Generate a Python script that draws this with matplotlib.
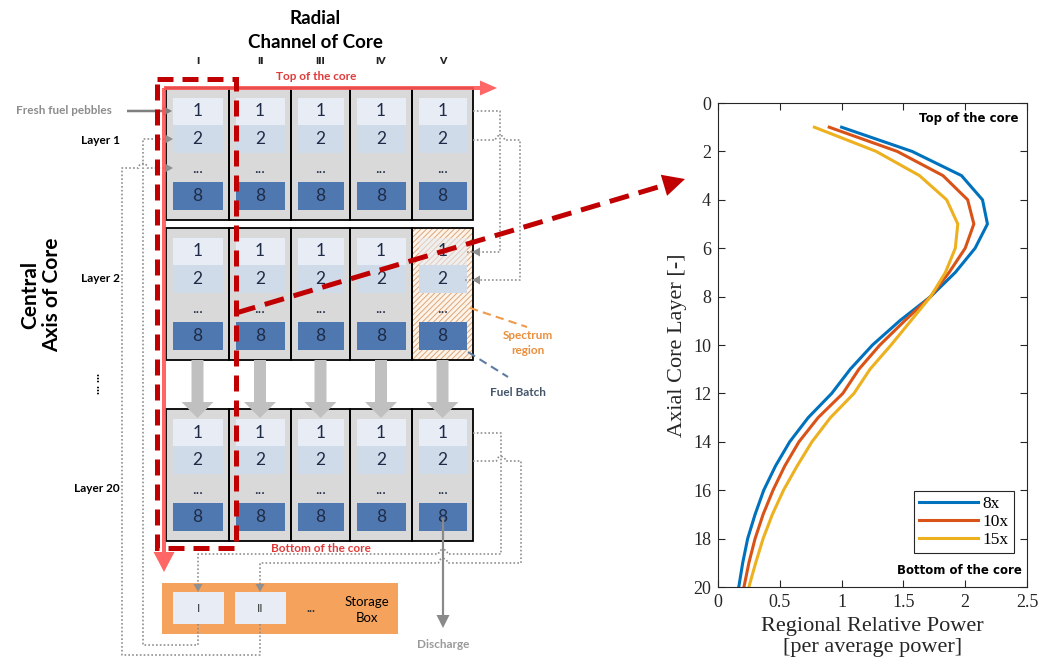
import numpy as np
import matplotlib
matplotlib.use('Agg')
import matplotlib.pyplot as plt
from matplotlib.patches import Rectangle, FancyArrow

# relative power per axial layer for the three pass numbers
layers = np.arange(1, 21)
power_8x = [1.00, 1.57, 1.97, 2.14, 2.18, 2.08, 1.92, 1.72, 1.47, 1.25,
            1.07, 0.92, 0.73, 0.58, 0.465, 0.37, 0.30, 0.24, 0.20, 0.168]
power_10x = [0.90, 1.45, 1.82, 2.02, 2.07, 2.00, 1.87, 1.72, 1.51, 1.31,
             1.14, 1.01, 0.81, 0.655, 0.54, 0.445, 0.365, 0.30, 0.25, 0.21]
power_15x = [0.78, 1.28, 1.63, 1.85, 1.94, 1.92, 1.84, 1.72, 1.56, 1.40,
             1.23, 1.10, 0.91, 0.76, 0.64, 0.53, 0.44, 0.365, 0.305, 0.25]
series_labels = ['8x', '10x', '15x']
series_colors = ['#0072bd', '#d95319', '#edb120']

channels = ['I', 'II', 'III', 'IV', 'V']
layer_names = ['Layer 1', 'Layer 2', 'Layer 20']
cell_rows = ['1', '2', '...', '8']
storage_slots = ['I', 'II']

SANS = 'Lato'
SERIF = 'Liberation Serif'

fig = plt.figure(figsize=(10.39, 6.64), dpi=100)

# ---- core schematic, drawn in pixel units ----
dg = fig.add_axes([0, 0, 1, 1])
dg.set_xlim(0, 1039)
dg.set_ylim(664, 0)
dg.axis('off')

col_edges = [166, 229, 291, 350, 412, 473]
block_tops = [88, 228, 409]
block_h = 132
dot_col = '#8f8f8f'
num_col = '#1f2b46'

dg.text(315, 18, 'Radial', ha='center', va='center', fontsize=13.5,
        fontweight='bold', family=SANS)
dg.text(315, 43, 'Channel of Core', ha='center', va='center', fontsize=13.5,
        fontweight='bold', family=SANS)
for j, name in enumerate(channels):
    cx = (col_edges[j] + col_edges[j + 1]) / 2
    dg.text(cx, 62, name, ha='center', va='center', fontsize=7.5,
            fontweight='heavy', family=SANS, color='#222222')
dg.text(316, 77, 'Top of the core', ha='center', va='center', fontsize=8.5,
        fontweight='bold', family=SANS, color='#e03a3a')
dg.text(321, 549, 'Bottom of the core', ha='center', va='center', fontsize=8.5,
        fontweight='bold', family=SANS, color='#e03a3a', zorder=9)

plt.rcParams['hatch.linewidth'] = 0.7
for b, bt in enumerate(block_tops):
    for j in range(5):
        x0, x1 = col_edges[j], col_edges[j + 1]
        w = x1 - x0
        spectrum = (b == 1 and j == 4)
        if spectrum:
            dg.add_patch(Rectangle((x0, bt), w, block_h, fc='#fdf3e9',
                                   ec='#dca67a', lw=0, hatch='//////',
                                   zorder=1))
        else:
            dg.add_patch(Rectangle((x0, bt), w, block_h, fc='#d9d9d9',
                                   lw=0, zorder=1))
        dg.add_patch(Rectangle((x0 + 6.5, bt + 10), w - 13, 27,
                               fc='#e7ecf5', lw=0, zorder=2,
                               alpha=0.55 if spectrum else 1))
        dg.add_patch(Rectangle((x0 + 6.5, bt + 37), w - 13, 28,
                               fc='#d0dbea', lw=0, zorder=2))
        dg.add_patch(Rectangle((x0 + 6.5, bt + 94), w - 13, 28,
                               fc='#4f78b0', lw=0, zorder=2))
        cx = x0 + w / 2
        for lab, yy in zip(cell_rows, [bt + 23.5, bt + 51, bt + 81, bt + 108]):
            dg.text(cx, yy, lab, ha='center', va='center', family=SANS,
                    fontsize=12.5 if lab != '...' else 11, color=num_col,
                    zorder=3)
        dg.add_patch(Rectangle((x0, bt), w, block_h, fill=False, ec='black',
                               lw=1.3, zorder=4))

# pebble flow from layer 2 down to layer 20
for j in range(5):
    cx = (col_edges[j] + col_edges[j + 1]) / 2
    dg.add_patch(FancyArrow(cx, 360, 0, 58, width=12, head_width=32,
                            head_length=16, length_includes_head=True,
                            fc='#c0c0c0', ec='none', zorder=5))

# layer labels on the left
for name, yy in zip(layer_names, [141, 279, 489]):
    dg.text(120, yy, name, ha='right', va='center', fontsize=8.5,
            fontweight='bold', family=SANS, zorder=6)
dg.text(96, 383, '... ...', ha='center', va='center', rotation=90,
        fontsize=9, fontweight='bold', family=SANS)
dg.text(30, 295, 'Central', ha='center', va='center', rotation=90,
        fontsize=15, fontweight='bold', family=SANS)
dg.text(52, 295, 'Axis of Core', ha='center', va='center', rotation=90,
        fontsize=15, fontweight='bold', family=SANS)

dg.text(112, 111, 'Fresh fuel pebbles', ha='right', va='center', fontsize=8.5,
        fontweight='bold', family=SANS, color='#8c8c8c')
dg.add_patch(FancyArrow(127, 111, 45, 0, width=2.5, head_width=10,
                        head_length=9, length_includes_head=True,
                        fc='#7f7f7f', ec='none', zorder=6))


def hop(x0, x1, y, xc, r=4.5):
    # horizontal run with a small bump where it crosses another line
    t = np.linspace(np.pi, 0, 14) if x1 > x0 else np.linspace(0, np.pi, 14)
    xs = np.concatenate([[x0], xc + r * np.cos(t), [x1]])
    ys = np.concatenate([[y], y - r * np.sin(t), [y]])
    return xs, ys


def route(parts, tip, direction):
    xs = np.concatenate([np.atleast_1d(p[0]) for p in parts])
    ys = np.concatenate([np.atleast_1d(p[1]) for p in parts])
    dg.plot(xs, ys, color=dot_col, lw=1.2, ls=(0, (1, 1.3)), zorder=6)
    dx, dy = direction
    dg.add_patch(FancyArrow(tip[0] - 8 * dx, tip[1] - 8 * dy, 8 * dx, 8 * dy,
                            width=0, head_width=9, head_length=8,
                            length_includes_head=True, fc=dot_col, ec='none',
                            zorder=6))


# recirculation paths from layer 1 to layer 2 (channel V)
route([([473, 500, 500, 465], [111, 111, 252, 252])], (472, 252), (-1, 0))
hx, hy = hop(473, 520, 140, 500)
route([(hx, hy), ([520, 520, 465], [140, 280, 280])], (472, 280), (-1, 0))

# layer 20 outlet to the storage box
hx, hy = hop(501, 198, 554, 443)
route([([473, 501, 501], [433, 433, 554]), (hx, hy), ([198, 198], [554, 584])],
      (198, 592), (0, 1))
hx1, hy1 = hop(473, 521, 461, 501)
hx2, hy2 = hop(521, 260, 563, 443)
route([(hx1, hy1), ([521, 521], [461, 563]), (hx2, hy2), ([260, 260], [563, 584])],
      (260, 592), (0, 1))

# storage box back to the top layer
route([([198, 198, 143, 143, 165], [624, 645, 645, 139, 139])], (173, 139), (1, 0))
hx, hy = hop(122, 165, 168, 143)
route([([260, 260, 122, 122], [624, 655, 655, 168]), (hx, hy)], (173, 168), (1, 0))

# storage box
dg.add_patch(Rectangle((162, 583), 236, 51, fc='#f5a25d', lw=0, zorder=2))
for k, slot in enumerate(storage_slots):
    x0 = 173 + 62 * k
    dg.add_patch(Rectangle((x0, 592), 51, 32, fc='#e8edf5', lw=0, zorder=3))
    dg.text(x0 + 25.5, 608, slot, ha='center', va='center', fontsize=8.5,
            family=SANS, color='#333333', zorder=4)
dg.text(311, 608, '...', ha='center', va='center', fontsize=9,
        fontweight='bold', family=SANS, color='#333333', zorder=4)
dg.text(367, 610, 'Storage\nBox', ha='center', va='center', fontsize=9.5,
        family=SANS, linespacing=1.3, zorder=4)

# discharge
dg.add_patch(FancyArrow(443, 518, 0, 110, width=2.2, head_width=13,
                        head_length=13, length_includes_head=True,
                        fc='#8a8a8a', ec='none', zorder=7))
dg.text(443, 644, 'Discharge', ha='center', va='center', fontsize=8.5,
        fontweight='bold', family=SANS, color='#9a9a9a')

# spectrum region / fuel batch call-outs
dg.plot([470, 527], [308, 327], color='#ef9a4a', lw=1.5, ls=(0, (4, 2.5)),
        zorder=6)
dg.text(528, 343, 'Spectrum\nregion', ha='center', va='center', fontsize=8.5,
        fontweight='bold', family=SANS, color='#ea8f3c', linespacing=1.35)
dg.plot([468, 508], [352, 377], color='#5d7ca3', lw=1.5, ls=(0, (4, 2.5)),
        zorder=6)
dg.text(518, 393, 'Fuel Batch', ha='center', va='center', fontsize=8.5,
        fontweight='bold', family=SANS, color='#44546a')

# core axes arrows (top surface and central axis)
red = '#ff5555'
dg.add_patch(FancyArrow(164, 88, 333, 0, width=4, head_width=15,
                        head_length=17, length_includes_head=True,
                        fc=red, ec='none', alpha=0.9, zorder=7))
dg.add_patch(FancyArrow(164, 88, 0, 484, width=4, head_width=21,
                        head_length=20, length_includes_head=True,
                        fc=red, ec='none', alpha=0.9, zorder=7))

# central channel highlight and pointer to the plot
dark_red = '#c00000'
dg.add_patch(Rectangle((157, 79), 79, 469, fill=False, ec=dark_red, lw=3.6,
                       ls=(0, (3.2, 1.8)), zorder=8))
start = np.array([236.0, 313.0])
tip = np.array([685.0, 179.0])
d = (tip - start) / np.linalg.norm(tip - start)
head_start = tip - 22 * d
dg.plot([start[0], head_start[0]], [start[1], head_start[1]], color=dark_red,
        lw=3.6, ls=(0, (4, 2)), zorder=8, solid_capstyle='butt')
dg.add_patch(FancyArrow(head_start[0], head_start[1], 22 * d[0], 22 * d[1],
                        width=0, head_width=22, head_length=22,
                        length_includes_head=True, fc=dark_red, ec='none',
                        zorder=8))

# ---- axial power profile ----
ax = fig.add_axes([718 / 1039, 77 / 664, 309 / 1039, 484 / 664])
for vals, lab, col in zip([power_8x, power_10x, power_15x], series_labels,
                          series_colors):
    ax.plot(vals, layers, color=col, lw=2.2, label=lab)

ax.set_xlim(0, 2.5)
ax.set_ylim(20, 0)
ax.set_xticks([0, 0.5, 1, 1.5, 2, 2.5])
ax.set_xticklabels(['0', '0.5', '1', '1.5', '2', '2.5'])
ax.set_yticks(np.arange(0, 21, 2))
ax.tick_params(direction='in', top=True, right=True, length=5, width=0.8,
               labelsize=13, colors='#262626', pad=5)
for lab in ax.get_xticklabels() + ax.get_yticklabels():
    lab.set_family(SERIF)
for s in ax.spines.values():
    s.set_color('#262626')
    s.set_linewidth(0.8)

ax.set_ylabel('Axial Core Layer [-]', family=SERIF, fontsize=16,
              color='#262626', labelpad=4)
ax.set_xlabel('Regional Relative Power\n[per average power]', family=SERIF,
              fontsize=16, color='#262626', labelpad=4, linespacing=1.2)

ax.text(0.971, 0.969, 'Top of the core', transform=ax.transAxes, ha='right',
        va='center', fontsize=8.5, fontweight='bold', family='DejaVu Sans')
ax.text(0.984, 0.035, 'Bottom of the core', transform=ax.transAxes,
        ha='right', va='center', fontsize=8.5, fontweight='bold',
        family='DejaVu Sans')

leg = ax.legend(loc='lower right', bbox_to_anchor=(0.958, 0.07),
                borderaxespad=0, fancybox=False, edgecolor='#262626',
                framealpha=1, handlelength=3.4, handletextpad=0.25,
                labelspacing=0.1, borderpad=0.3,
                prop={'family': SERIF, 'size': 12.5})
leg.get_frame().set_linewidth(0.8)

fig.savefig('out.png', dpi=100)
